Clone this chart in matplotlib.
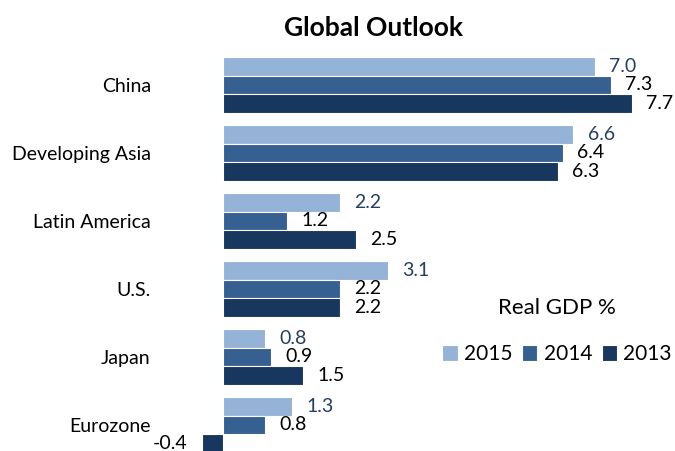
import matplotlib
matplotlib.use("Agg")
import matplotlib.pyplot as plt
import numpy as np

categories = ["China", "Developing Asia", "Latin America", "U.S.", "Japan", "Eurozone"]
series_names = ["2015", "2014", "2013"]
v2015 = [7.0, 6.6, 2.2, 3.1, 0.8, 1.3]
v2014 = [7.3, 6.4, 1.2, 2.2, 0.9, 0.8]
v2013 = [7.7, 6.3, 2.5, 2.2, 1.5, -0.4]
colors = ["#95B3D7", "#366092", "#17375E"]
label_colors = ["#243F60", "#000000", "#000000"]

plt.rcParams['font.family'] = ['Lato', 'DejaVu Sans']

W, H = 675, 451
fig = plt.figure(figsize=(W / 100, H / 100), dpi=100)

# axes in pixel geometry
ax_left, ax_right = 180, 665
ax_top, ax_bot = 40, 451
ax = fig.add_axes([ax_left / W, 1 - ax_bot / H, (ax_right - ax_left) / W, (ax_bot - ax_top) / H])
scale = 53.1  # px per unit
zero_px = 223
ax.set_xlim(-(zero_px - ax_left) / scale, (ax_right - zero_px) / scale)
gap = 68.0
c0 = 85.0
ax.set_ylim((ax_bot - c0) / gap, -(c0 - ax_top) / gap)

y = np.arange(len(categories))
h = 0.272
series = [v2015, v2014, v2013]
bars_all = []
off = 0.27
for k, (vals, col, lc, name) in enumerate(zip(series, colors, label_colors, series_names)):
    pos = y + (k - 1) * h
    bars = ax.barh(pos, vals, height=h, color=col, edgecolor="white", linewidth=0.8, label=name)
    bars_all.append(bars)
    for p, v in zip(pos, vals):
        if v >= 0:
            ax.text(v + off, p, f"{v:.1f}", ha="left", va="center", fontsize=14, color=lc)
        else:
            ax.text(v - off, p, f"{v:.1f}", ha="right", va="center", fontsize=14, color=lc)

ax.set_yticks(y)
ax.set_yticklabels(categories, fontsize=14)
ax.tick_params(axis="y", length=0, pad=21)
ax.set_xticks([])
for s in ax.spines.values():
    s.set_visible(False)

fig.text(373 / W, 1 - 28 / H, "Global Outlook", ha="center", va="center", fontsize=19, fontweight="bold")

leg = fig.legend(handles=bars_all, labels=series_names, loc="center", bbox_to_anchor=(557 / W, 1 - 331 / H),
                 ncol=3, frameon=False, fontsize=15, handlelength=0.75, handleheight=0.75,
                 handletextpad=0.3, columnspacing=0.45, title="Real GDP %", title_fontsize=16)
leg._legend_box.sep = 19

fig.savefig("out.png", dpi=100)
